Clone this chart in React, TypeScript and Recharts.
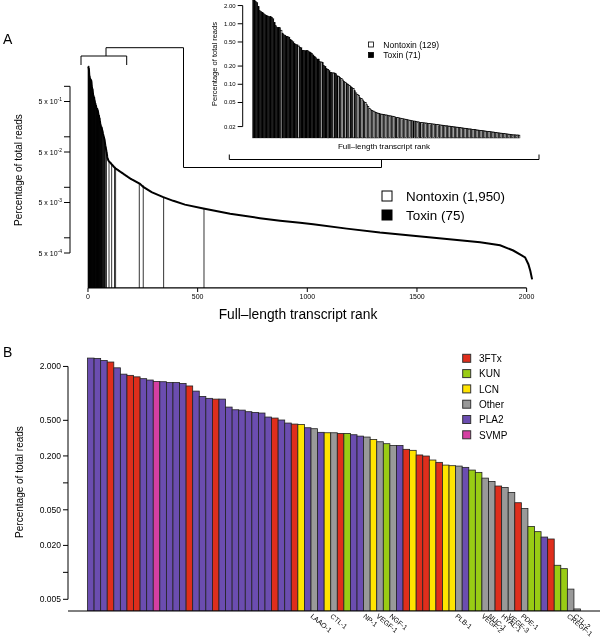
import React from 'react';
import { BarChart, Bar, ComposedChart, Line, XAxis, YAxis, ReferenceLine } from 'recharts';

const FONT = '"Liberation Sans", Arial, Helvetica, sans-serif';

// Panel B: every toxin transcript, ranked (percentage of total reads)
const TOXIN_VALUES = [
  2.48, 2.46, 2.33, 2.24, 1.93, 1.64, 1.59, 1.53, 1.46, 1.41,
  1.36, 1.35, 1.32, 1.32, 1.29, 1.21, 1.06, 0.925, 0.88, 0.863,
  0.863, 0.703, 0.656, 0.65, 0.624, 0.613, 0.603, 0.544, 0.53, 0.504,
  0.466, 0.454, 0.45, 0.413, 0.403, 0.367, 0.363, 0.363, 0.357, 0.357,
  0.345, 0.333, 0.325, 0.306, 0.288, 0.274, 0.262, 0.262, 0.237, 0.231,
  0.205, 0.1995, 0.18, 0.1695, 0.158, 0.1556, 0.154, 0.149, 0.139, 0.131,
  0.113, 0.1038, 0.0922, 0.089, 0.0782, 0.06, 0.0518, 0.0326, 0.0285, 0.0248,
  0.0236, 0.012, 0.011, 0.0065, 0.0039,
];
const TOXIN_FAMILY = [
  'PLA2', 'PLA2', 'PLA2', '3FTx', 'PLA2', 'PLA2', '3FTx', '3FTx', 'PLA2', 'PLA2',
  'SVMP', 'PLA2', 'PLA2', 'PLA2', 'PLA2', '3FTx', 'PLA2', 'PLA2', 'PLA2', '3FTx',
  'PLA2', 'PLA2', 'PLA2', 'PLA2', 'PLA2', 'PLA2', 'PLA2', 'PLA2', '3FTx', 'PLA2',
  'PLA2', '3FTx', 'LCN', 'PLA2', 'Other', 'PLA2', 'LCN', 'Other', '3FTx', 'KUN',
  'PLA2', 'PLA2', 'Other', 'LCN', 'Other', 'KUN', 'Other', 'PLA2', '3FTx', 'LCN',
  '3FTx', '3FTx', 'LCN', '3FTx', 'LCN', 'LCN', 'Other', 'PLA2', 'KUN', 'KUN',
  'Other', 'Other', '3FTx', 'Other', 'Other', '3FTx', 'Other', 'KUN', 'KUN', 'PLA2',
  '3FTx', 'KUN', 'KUN', 'Other', 'Other',
];
// names written under the "Other" bars, left to right
const OTHER_LABELS = ['LAAO-1', 'CTL-1', 'NP-1', 'VEGF-1', 'NGF-1', 'PLB-1', 'VEGF-2', 'NUC-1', 'HYAL-1', 'VEGF-3', 'PDE-1', 'CREGF-1', 'CTL-2'];
const FAMILIES = ['3FTx', 'KUN', 'LCN', 'Other', 'PLA2', 'SVMP'];
const FAMILY_COLORS: Record<string, string> = {
  '3FTx': '#DF2E1C', KUN: '#99CC14', LCN: '#FFE400', Other: '#999999', PLA2: '#6B4DB0', SVMP: '#D53FA2',
};

// Inset: nontoxin transcripts inside the top 200
const NONTOXIN_TOP = [
  0.78, 0.43, 0.234, 0.175, 0.155, 0.135,
  0.125, 0.118, 0.108, 0.1, 0.095, 0.085,
  0.072, 0.068, 0.065, 0.058, 0.055, 0.05, 0.046, 0.043,
  0.04, 0.038, 0.037, 0.036, 0.035, 0.034, 0.0335, 0.033,
  0.0322, 0.0318, 0.0315, 0.0312, 0.031, 0.0307, 0.0303, 0.03, 0.0297, 0.0293,
  0.029, 0.0282, 0.0279, 0.0276, 0.0273, 0.027, 0.0267, 0.0264, 0.0261, 0.0258,
  0.0255, 0.0252, 0.025, 0.0246, 0.0243, 0.024, 0.0238,
  0.0234, 0.0232, 0.0231, 0.0229, 0.0228, 0.0226, 0.0225, 0.0223, 0.0222, 0.022,
  0.0219, 0.0217, 0.0216, 0.0214, 0.0213, 0.0211, 0.021, 0.0208, 0.0207, 0.0206,
  0.0204, 0.0203, 0.0201, 0.02, 0.0199, 0.0197, 0.0196, 0.0195, 0.0193, 0.0192,
  0.0191, 0.0189, 0.0188, 0.0187, 0.0185, 0.0184, 0.0183, 0.0182, 0.018, 0.0179,
  0.0178, 0.0177, 0.0175, 0.0174, 0.0173, 0.0172, 0.0171, 0.017, 0.0168, 0.0167,
  0.0166, 0.0165, 0.0164, 0.0163, 0.0162, 0.016, 0.0159, 0.0158, 0.0157, 0.0156,
  0.0155, 0.0154, 0.0153, 0.0152, 0.0151, 0.015, 0.0149, 0.0148, 0.0147, 0.0146,
  0.0146, 0.0145, 0.0145, 0.0144,
];

// Panel A: ranks of the four toxins below the top 200, and the tail of the curve
const TOXIN_TAIL_RANKS = [234, 252, 345, 529];
const TAIL_RANKS = [237, 252, 290, 343, 389, 442, 526, 648, 784, 876, 967, 1027, 1180, 1331, 1483, 1636, 1788, 1879, 1939, 1993, 2008, 2017, 2025];
const TAIL_VALUES = [0.0117, 0.0102, 0.008, 0.0064, 0.0054, 0.00454, 0.0038, 0.003, 0.00245, 0.00218, 0.00198, 0.00186, 0.00152, 0.00127, 0.0011, 0.00095, 0.00082, 0.00071, 0.00056, 0.00041, 0.0003, 0.00022, 0.00015];

const MAIN_LEGEND = [
  { label: 'Nontoxin (1,950)', fill: '#fff' },
  { label: 'Toxin (75)', fill: '#000' },
];
const INSET_LEGEND = [
  { label: 'Nontoxin (129)', fill: '#fff' },
  { label: 'Toxin (71)', fill: '#000' },
];

const MAIN_X_TICKS = [0, 500, 1000, 1500, 2000];
const MAIN_Y_TICKS = [1, 0.5, 0.1, 0.05, 0.01, 0.005, 0.001, 0.0005];
const INSET_Y_TICKS = [2, 1, 0.5, 0.2, 0.1, 0.05, 0.02];
const B_Y_TICKS = [2, 0.5, 0.2, 0.1, 0.05, 0.02, 0.01, 0.005];
const B_Y_LABELED = [2, 0.5, 0.2, 0.05, 0.02, 0.005];

const MAIN_Y_MIN = 0.0001014;
// band widths of the two bar plots (bars touch, as in R's barplot with space = 0)
const INSET_BAND = (520 - 252.7) / 200;
const B_BAND = (600 - 68 - 19.3 - 19.7) / 75;

// ---- derived tables
const toxinData = TOXIN_VALUES.map((value, i) => ({ id: i + 1, value, family: TOXIN_FAMILY[i] }));
let otherIdx = 0;
const toxinNames = TOXIN_FAMILY.map(f => (f === 'Other' ? OTHER_LABELS[otherIdx++] : ''));

const top200 = [
  ...TOXIN_VALUES.map(value => ({ value, toxin: true })),
  ...NONTOXIN_TOP.map(value => ({ value, toxin: false })),
]
  .sort((a, b) => b.value - a.value)
  .slice(0, 200)
  .map((d, i) => ({ ...d, rank: i + 1 }));

const toxinRanks = [...top200.filter(d => d.toxin).map(d => d.rank), ...TOXIN_TAIL_RANKS];
const mainBars = TOXIN_VALUES.map((value, i) => ({ rank: toxinRanks[i], value }));
const mainCurve = [
  ...top200.map(d => ({ rank: d.rank, value: d.value })),
  ...TAIL_RANKS.map((rank, i) => ({ rank, value: TAIL_VALUES[i] })),
];

const txt = { fontFamily: FONT, fill: '#000' };
const layer: React.CSSProperties = { position: 'absolute', left: 0, top: 0, willChange: 'transform' };

const MainYTick = (props: any) => {
  const { x, y, payload } = props;
  const e = Math.log10(payload.value / 5);
  if (Math.abs(e - Math.round(e)) > 1e-6) return <g />;
  return (
    <text x={x} y={y + 2.5} textAnchor="end" fontSize={7} {...txt}>
      5 x 10<tspan fontSize={5} dy={-3}>{Math.round(e)}</tspan>
    </text>
  );
};

const InsetYTick = (props: any) => {
  const { x, y, payload } = props;
  return (
    <text x={x} y={y + 2} textAnchor="end" fontSize={6} {...txt}>
      {payload.value.toFixed(2)}
    </text>
  );
};

const BYTick = (props: any) => {
  const { x, y, payload } = props;
  if (!B_Y_LABELED.includes(payload.value)) return <g />;
  return (
    <text x={x} y={y + 3} textAnchor="end" fontSize={8.5} {...txt}>
      {payload.value.toFixed(3)}
    </text>
  );
};

const BNameTick = (props: any) => {
  const { x, y, payload } = props;
  const name = toxinNames[payload.value - 1];
  if (!name) return <g />;
  const ax = x - 4;
  const ay = y + 6;
  return (
    <text x={ax} y={ay} transform={`rotate(40, ${ax}, ${ay})`} fontSize={7} {...txt}>
      {name}
    </text>
  );
};

// toxin transcripts in panel A drawn as thin vertical lines (R type = "h")
const Spike = (p: any) => {
  const cx = p.x + p.width / 2;
  return <line x1={cx} x2={cx} y1={p.y} y2={p.y + p.height} stroke="#000" strokeWidth={0.8} />;
};

const InsetBar = (p: any) => {
  const cx = p.x + p.width / 2;
  const toxin = p.payload.toxin;
  return (
    <rect
      x={cx - INSET_BAND / 2} y={p.y} width={INSET_BAND} height={p.height}
      fill={toxin ? '#000' : '#fff'} stroke="#000" strokeWidth={toxin ? 0.3 : 0.7}
    />
  );
};

const FamilyBar = (p: any) => {
  const cx = p.x + p.width / 2;
  return (
    <rect
      x={cx - B_BAND / 2} y={p.y} width={B_BAND} height={p.height}
      fill={FAMILY_COLORS[p.payload.family]} stroke="#222" strokeWidth={0.8}
    />
  );
};

const Overlay = () => (
  <svg width={600} height={639} style={{ ...layer, pointerEvents: 'none' }}>
    <text x={3} y={44} fontSize={14} {...txt}>A</text>
    <text x={3} y={357} fontSize={14} {...txt}>B</text>
    <text transform="translate(22,170) rotate(-90)" textAnchor="middle" fontSize={10} {...txt}>Percentage of total reads</text>
    <text transform="translate(23,482) rotate(-90)" textAnchor="middle" fontSize={10} {...txt}>Percentage of total reads</text>
    <text transform="translate(217,64) rotate(-90)" textAnchor="middle" fontSize={7.5} {...txt}>Percentage of total reads</text>
    <text x={298} y={319} textAnchor="middle" fontSize={13.8} {...txt}>Full–length transcript rank</text>
    <text x={384} y={149} textAnchor="middle" fontSize={8} {...txt}>Full–length transcript rank</text>
    <path
      d="M81,65 V56 H126.7 V65 M106,56 V47.7 H183.5 V167.5 H381.5 V159.5 M229.3,154.5 V159.5 H539 V154.5"
      fill="none" stroke="#000" strokeWidth={1}
    />
    {MAIN_LEGEND.map((d, i) => (
      <g key={d.label}>
        <rect x={382} y={191 + i * 19} width={10} height={10} fill={d.fill} stroke="#000" strokeWidth={1} />
        <text x={406} y={200.8 + i * 19} fontSize={13.4} {...txt}>{d.label}</text>
      </g>
    ))}
    {INSET_LEGEND.map((d, i) => (
      <g key={d.label}>
        <rect x={368.5} y={42 + i * 10.5} width={5} height={5} fill={d.fill} stroke="#000" strokeWidth={0.8} />
        <text x={383.3} y={47.8 + i * 10.5} fontSize={8.5} {...txt}>{d.label}</text>
      </g>
    ))}
    {FAMILIES.map((f, i) => (
      <g key={f}>
        <rect x={462.7} y={354.3 + i * 15.3} width={8} height={8} fill={FAMILY_COLORS[f]} stroke="#333" strokeWidth={1} />
        <text x={479} y={362 + i * 15.3} fontSize={10} {...txt}>{f}</text>
      </g>
    ))}
  </svg>
);

export default function App() {
  return (
    <div style={{ position: 'absolute', left: 0, top: 0, width: 600, height: 639, background: '#fff', fontFamily: FONT }}>
      {/* Panel A: all transcripts */}
      <div style={layer}>
        <ComposedChart width={600} height={320} data={mainBars} margin={{ top: 60.6, right: 60, bottom: 12, left: 0 }}>
          <XAxis
            dataKey="rank" type="number" domain={[-82, 2061]} allowDataOverflow ticks={MAIN_X_TICKS}
            axisLine={false} tickSize={4} tickLine={{ stroke: '#000' }} height={20}
            tick={{ fontSize: 7, fill: '#000', fontFamily: FONT }}
          />
          <YAxis
            type="number" scale="log" domain={[MAIN_Y_MIN, 3.23]} allowDataOverflow ticks={MAIN_Y_TICKS} interval={0}
            width={70} axisLine={false} tickSize={6} tickLine={{ stroke: '#000' }} tick={<MainYTick />}
          />
          <Bar dataKey="value" barSize={1} shape={<Spike />} isAnimationActive={false} />
          <Line data={mainCurve} dataKey="value" type="linear" stroke="#000" strokeWidth={2} dot={false} isAnimationActive={false} />
          <ReferenceLine segment={[{ x: 0, y: 0.000102 }, { x: 2000, y: 0.000102 }]} stroke="#000" strokeWidth={1.2} ifOverflow="visible" />
          <ReferenceLine segment={[{ x: -82, y: 1 }, { x: -82, y: 0.0005 }]} stroke="#000" ifOverflow="visible" />
        </ComposedChart>
      </div>

      {/* Inset: top 200 transcripts */}
      <div style={layer}>
        <BarChart width={600} height={150} data={top200} barCategoryGap="0%" barGap={0} margin={{ top: 0, right: 80, bottom: 11.7, left: 202.7 }}>
          <XAxis dataKey="rank" hide padding={{ left: 10, right: 0 }} />
          <XAxis xAxisId="frame" type="number" domain={[0, 1]} hide />
          <YAxis
            scale="log" domain={[0.0128, 2.47]} allowDataOverflow ticks={INSET_Y_TICKS} interval={0}
            width={40} axisLine={false} tickSize={5} tickLine={{ stroke: '#000' }} tick={<InsetYTick />}
          />
          <ReferenceLine xAxisId="frame" segment={[{ x: 0, y: 2 }, { x: 0, y: 0.02 }]} stroke="#000" ifOverflow="visible" />
          <Bar dataKey="value" shape={<InsetBar />} isAnimationActive={false} />
        </BarChart>
      </div>

      {/* Panel B: toxins by family */}
      <div style={layer}>
        <BarChart width={600} height={639} data={toxinData} barCategoryGap="0%" barGap={0} margin={{ top: 339.5, right: 0, bottom: 0, left: 0 }}>
          <XAxis
            dataKey="id" interval={0} tickLine={false} tickSize={0} tickMargin={0} axisLine={{ stroke: '#000' }}
            padding={{ left: 19.3, right: 19.7 }} height={28} tick={<BNameTick />}
          />
          <XAxis xAxisId="frame" type="number" domain={[0, 1]} hide />
          <YAxis
            scale="log" domain={[0.0037, 4]} allowDataOverflow ticks={B_Y_TICKS} interval={0}
            width={68} axisLine={false} tickSize={5} tickLine={{ stroke: '#000' }} tick={<BYTick />}
          />
          <ReferenceLine xAxisId="frame" segment={[{ x: 0, y: 2 }, { x: 0, y: 0.005 }]} stroke="#000" ifOverflow="visible" />
          <Bar dataKey="value" shape={<FamilyBar />} isAnimationActive={false} />
        </BarChart>
      </div>

      <Overlay />
    </div>
  );
}
